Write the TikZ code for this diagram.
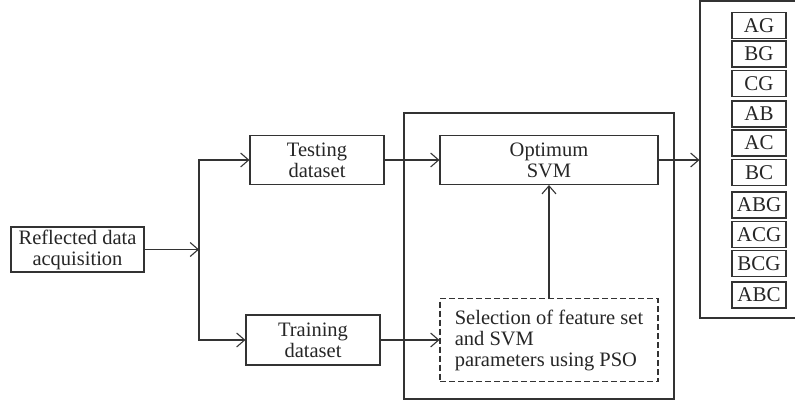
\documentclass[tikz,border=0pt]{standalone}
\usepackage{fontspec}
\setmainfont{Liberation Serif}
\usetikzlibrary{arrows.meta}

\begin{document}
\begin{tikzpicture}[x=1pt, y=-1pt, line width=1.1pt, draw=black!80, text=black!85,
    box/.style={draw, inner sep=0pt, align=center, font=\fontsize{20.5}{21}\selectfont},
    tag/.style={draw, minimum width=54pt, minimum height=26pt, inner sep=0pt, font=\fontsize{21}{21}\selectfont},
    >={Straight Barb[length=8pt,width=14pt]}]
    \useasboundingbox (0,0) rectangle (795,400);
    \node[box, minimum width=133pt, minimum height=45pt] (refl) at (77.5,249.5) {Reflected data\\acquisition};
    \node[box, minimum width=134pt, minimum height=49pt] (test) at (317,160) {Testing\\dataset};
    \node[box, minimum width=134pt, minimum height=50pt] (train) at (313,340) {Training\\dataset};
    \node[draw, minimum width=270pt, minimum height=286pt] (stage) at (539,256) {};
    \node[box, minimum width=218pt, minimum height=49pt] (svm) at (549,160) {Optimum\\SVM};
    \node[box, align=left, dash pattern=on 6pt off 3pt, minimum width=218pt, minimum height=83pt] (sel) at (549,340)
        {Selection of feature set\\and SVM\\parameters using PSO};
    \node[draw, minimum width=120pt, minimum height=317pt] (result) at (760,159.5) {};
    \foreach \t/\y in {AG/25.5, BG/54, CG/83.5, AB/114, AC/143, BC/172.5, ABG/205, ACG/234.5, BCG/263.5, ABC/295}
        \node[tag] (\t) at (759,\y) {\t};
    \coordinate (split) at (199,249.5);
    \draw[->] (refl) -- (split);
    \draw[->] (split) |- (test);
    \draw[->] (split) |- (train);
    \draw[->] (test) -- (svm);
    \draw[->] (train) -- (sel);
    \draw[->] (sel) -- (svm);
    \draw[->] (svm) -- (svm -| result.west);
\end{tikzpicture}
\end{document}
